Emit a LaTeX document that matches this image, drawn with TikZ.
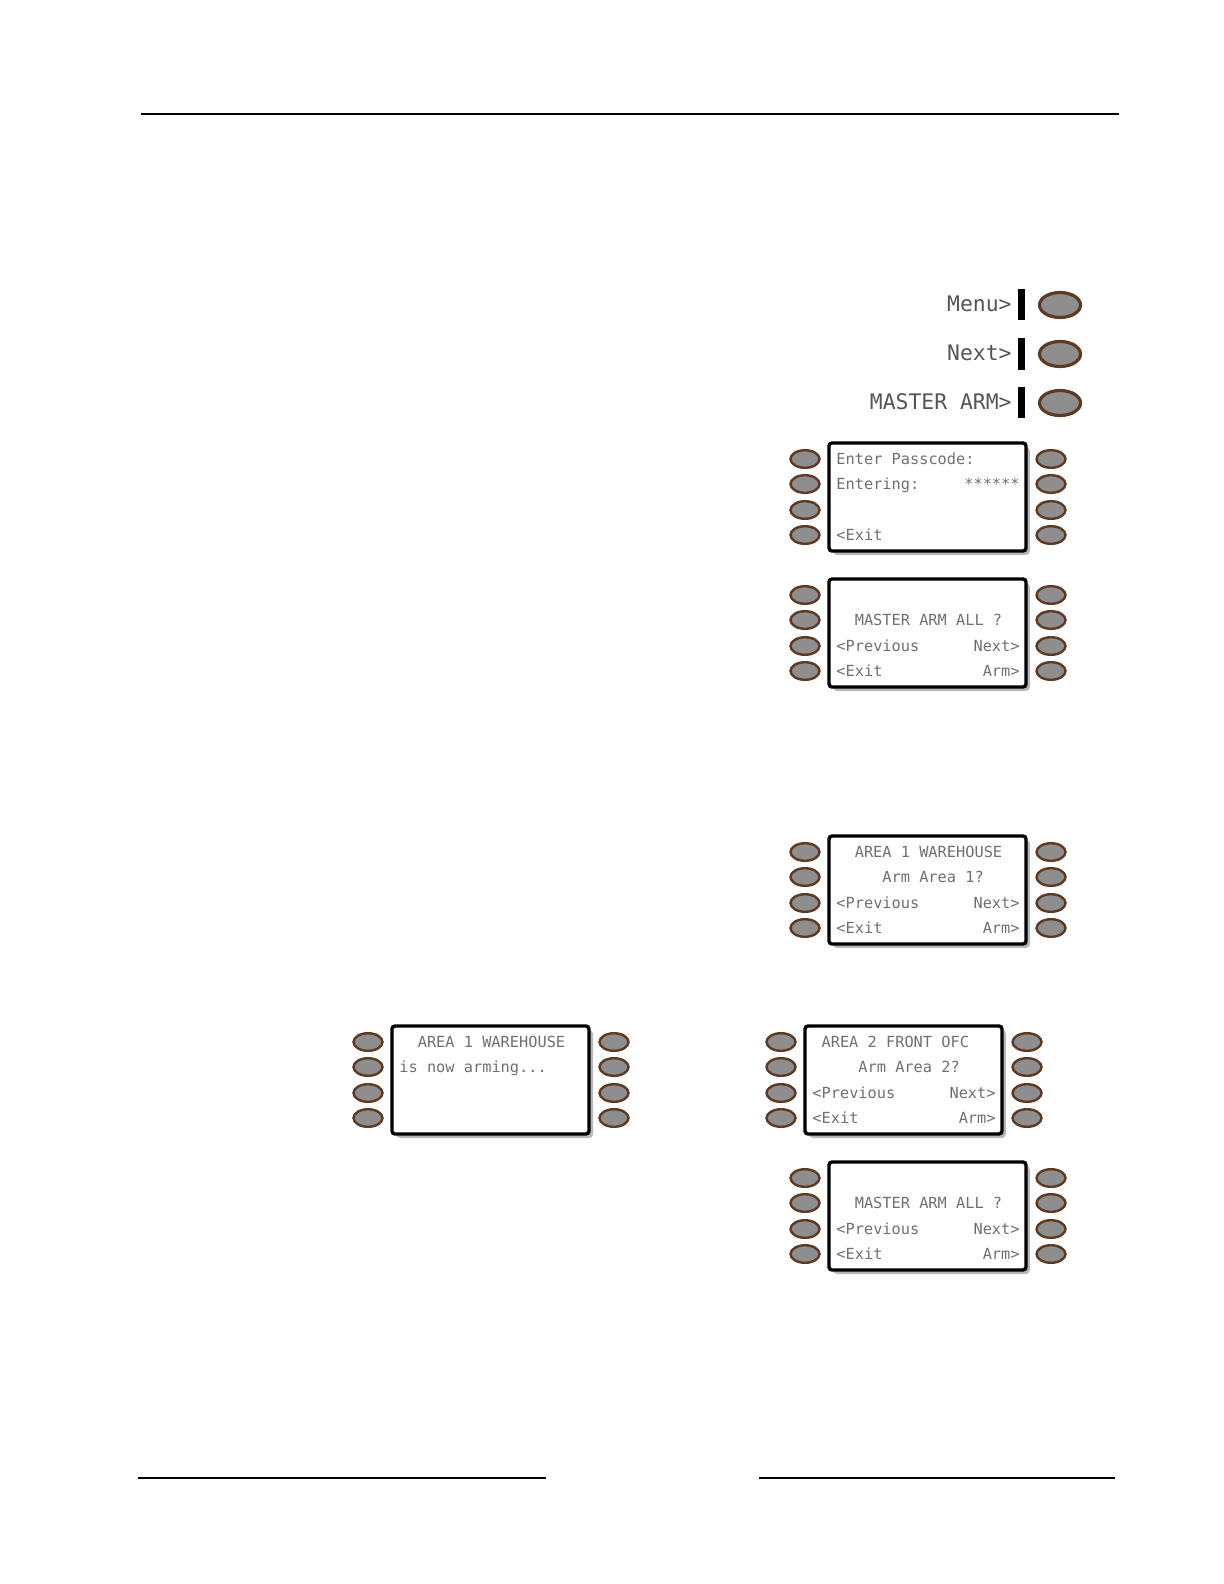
\documentclass[tikz,border=0pt]{standalone}
\usepackage{fontspec}
\newfontfamily\lcdfont{DejaVu Sans Mono}
\usetikzlibrary{shapes.geometric}
\definecolor{btnfill}{HTML}{8E8E8E}
\definecolor{btnedge}{HTML}{5E3A22}
\definecolor{lcdtext}{HTML}{707070}
\definecolor{menutext}{HTML}{555555}
\definecolor{shadowgray}{HTML}{B8B8B8}
\tikzset{
  kbtn/.style={ellipse, draw=btnedge, line width=1.2pt, fill=btnfill, minimum width=14.5pt, minimum height=8.8pt, inner sep=0pt},
  mbtn/.style={ellipse, draw=btnedge, line width=1.6pt, fill=btnfill, minimum width=20.5pt, minimum height=12.5pt, inner sep=0pt},
  lcdl/.style={anchor=base west, inner sep=0pt, text=lcdtext, font=\lcdfont\fontsize{7.65}{9}\selectfont},
  lcdr/.style={anchor=base east, inner sep=0pt, text=lcdtext, font=\lcdfont\fontsize{7.65}{9}\selectfont},
  menulbl/.style={anchor=base east, inner sep=0pt, text=menutext, font=\lcdfont\fontsize{10.7}{12}\selectfont},
}
% keypad: name, box left, box top (px)
\newcommand\keypad[3]{%
  \fill[shadowgray, rounded corners=2pt] (#2+4,#3+4) rectangle (#2+201,#3+112);
  \draw[line width=1.7pt, fill=white, rounded corners=1.5pt] (#2,#3) rectangle (#2+197,#3+108);
  \foreach \i/\dy in {1/16,2/41,3/67,4/92}{
    \node[kbtn] (#1-l\i) at (#2-24,#3+\dy) {};
    \node[kbtn] (#1-r\i) at (#2+222,#3+\dy) {};
  }%
}
\begin{document}
\begin{tikzpicture}[x=0.5pt,y=-0.5pt]
\useasboundingbox (0,0) rectangle (1224,1584);
% page rules
\draw[line width=1pt] (141,114) -- (1119,114);
\draw[line width=0.75pt] (138,1478) -- (546,1478);
\draw[line width=0.75pt] (759,1478) -- (1115,1478);

% menu keys
\node[menulbl] (mk1) at (1012,311) {Menu>};
\node[menulbl] (mk2) at (1012,360) {Next>};
\node[menulbl] (mk3) at (1012,409) {MASTER ARM>};
\fill (1018,289) rectangle (1025,320);
\fill (1018,338) rectangle (1025,370);
\fill (1018,387) rectangle (1025,418);
\node[mbtn] (mb1) at (1060,305) {};
\node[mbtn] (mb2) at (1060,354) {};
\node[mbtn] (mb3) at (1060,403) {};

% keypad 1
\keypad{k1}{829}{443}
\node[lcdl] (k1a) at (836,443+21) {Enter Passcode:};
\node[lcdl] (k1b) at (836,443+46) {Entering:};
\node[lcdr] (k1c) at (1020,443+46) {******};
\node[lcdl] (k1d) at (836,443+97) {<Exit};

% keypad 2
\keypad{k2}{829}{579}
\node[lcdl] (k2a) at (836+18.4,579+46) {MASTER ARM ALL ?};
\node[lcdl] (k2b) at (836,579+72) {<Previous};
\node[lcdr] (k2c) at (1020,579+72) {Next>};
\node[lcdl] (k2d) at (836,579+97) {<Exit};
\node[lcdr] (k2e) at (1020,579+97) {Arm>};

% keypad 3
\keypad{k3}{829}{836}
\node[lcdl] (k3a) at (836+18.4,836+21) {AREA 1 WAREHOUSE};
\node[lcdl] (k3b) at (836+46,836+46) {Arm Area 1?};
\node[lcdl] (k3c) at (836,836+72) {<Previous};
\node[lcdr] (k3d) at (1020,836+72) {Next>};
\node[lcdl] (k3e) at (836,836+97) {<Exit};
\node[lcdr] (k3f) at (1020,836+97) {Arm>};

% keypad 4
\keypad{k4}{392}{1026}
\node[lcdl] (k4a) at (399+18.4,1026+21) {AREA 1 WAREHOUSE};
\node[lcdl] (k4b) at (399,1026+46) {is now arming...};

% keypad 5
\keypad{k5}{805}{1026}
\node[lcdl] (k5a) at (812+9.2,1026+21) {AREA 2 FRONT OFC};
\node[lcdl] (k5b) at (812+46,1026+46) {Arm Area 2?};
\node[lcdl] (k5c) at (812,1026+72) {<Previous};
\node[lcdr] (k5d) at (996,1026+72) {Next>};
\node[lcdl] (k5e) at (812,1026+97) {<Exit};
\node[lcdr] (k5f) at (996,1026+97) {Arm>};

% keypad 6
\keypad{k6}{829}{1162}
\node[lcdl] (k6a) at (836+18.4,1162+46) {MASTER ARM ALL ?};
\node[lcdl] (k6b) at (836,1162+72) {<Previous};
\node[lcdr] (k6c) at (1020,1162+72) {Next>};
\node[lcdl] (k6d) at (836,1162+97) {<Exit};
\node[lcdr] (k6e) at (1020,1162+97) {Arm>};
\end{tikzpicture}
\end{document}
